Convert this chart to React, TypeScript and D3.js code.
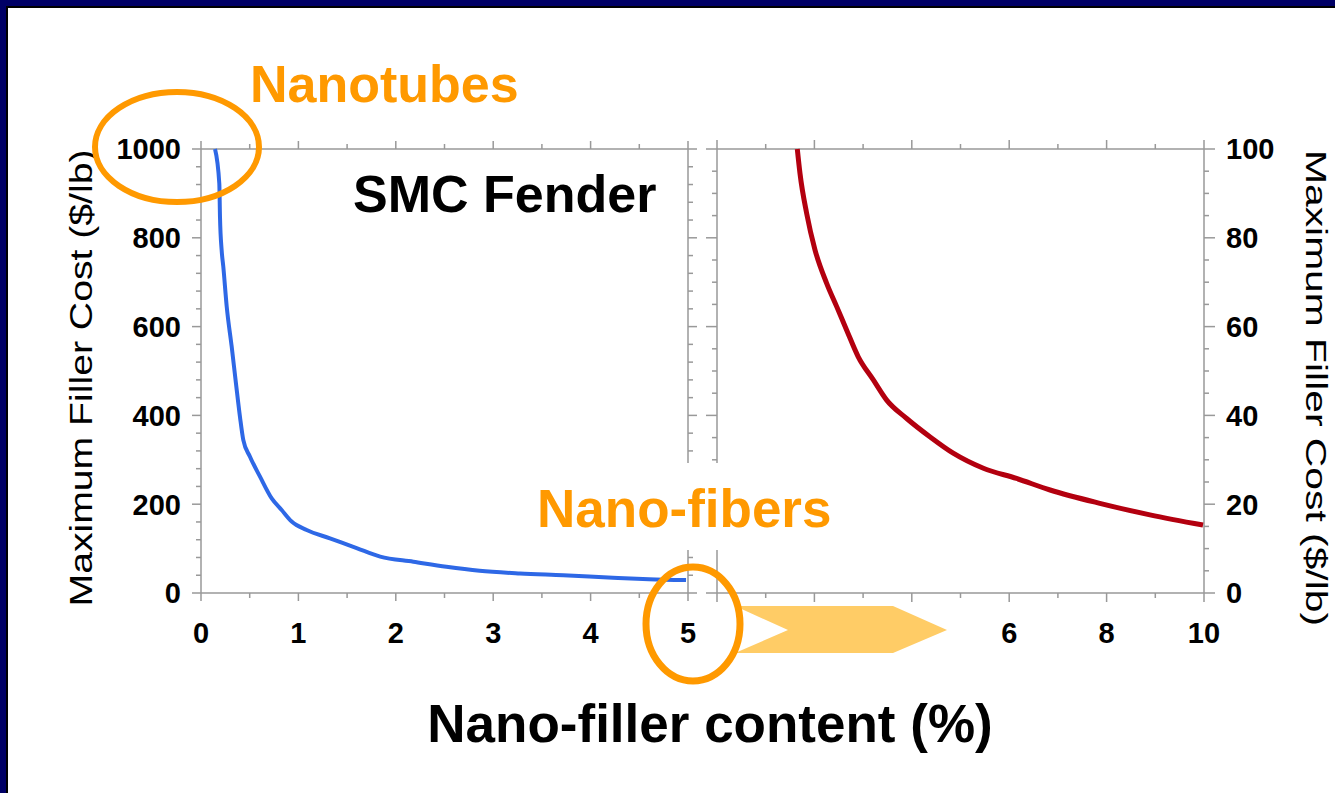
import React, { useEffect } from 'react';
import * as d3 from 'd3';

// Nano-filler content (%) vs maximum filler cost ($/lb)
const nanotubeContent = [0.144, 0.188, 0.195, 0.212, 0.229, 0.264, 0.315, 0.359, 0.4, 0.434, 0.503, 0.606, 0.726, 0.828, 0.931, 1.085, 1.324, 1.598, 1.84, 2.18, 2.52, 2.86, 3.275, 3.72, 4.23, 4.6, 4.98];
const nanotubeCost = [1000, 922, 847, 772, 735, 645, 555, 472, 397, 345, 307, 262, 213, 187, 161, 142, 123, 101, 82, 70.5, 59, 50, 44, 40, 34.5, 31, 29];

const fiberContent = [1.649, 1.704, 1.841, 2.012, 2.25, 2.458, 2.663, 2.9, 3.21, 3.48, 3.895, 4.37, 4.85, 5.47, 6.15, 6.84, 7.86, 8.89, 9.98];
const fiberCost = [100, 94.5, 85.5, 77.3, 69.8, 64.5, 59.2, 53.2, 48.0, 43.5, 39.3, 35.2, 31.5, 28.1, 25.8, 23.2, 20.2, 17.6, 15.3];

const leftXTicks = [0, 1, 2, 3, 4, 5];
const leftYTicks = [0, 200, 400, 600, 800, 1000];
const rightXTickLabels = [6, 8, 10];
const rightYTicks = [0, 20, 40, 60, 80, 100];

const yLabel = 'Maximum Filler Cost ($/lb)';
const xLabel = 'Nano-filler content (%)';
const title = 'SMC Fender';
const noteTubes = 'Nanotubes';
const noteFibers = 'Nano-fibers';

const FONT = '"Liberation Sans", Arial, Helvetica, sans-serif';
const ORANGE = '#FF9900';
const AXIS = '#999999';

export default function App() {
  useEffect(() => {
    document.body.style.margin = '0';
    document.body.style.overflow = 'hidden';
  }, []);

  const xL = d3.scaleLinear().domain([0, 5]).range([201, 688]);
  const yL = d3.scaleLinear().domain([0, 1000]).range([593, 149]);
  const xR = d3.scaleLinear().domain([0, 10]).range([717, 1204]);
  const yR = d3.scaleLinear().domain([0, 100]).range([593, 149]);

  const leftLine = d3
    .line<number>()
    .x((_, i) => xL(nanotubeContent[i]))
    .y((d) => yL(d))
    .curve(d3.curveMonotoneX);
  const rightLine = d3
    .line<number>()
    .x((_, i) => xR(fiberContent[i]))
    .y((d) => yR(d))
    .curve(d3.curveMonotoneX);

  const lxMinor = d3.range(0, 5.001, 0.5);
  const lyMinor = d3.range(0, 1000.1, 40);
  const rxMinor = d3.range(0, 10.001, 1);
  const ryMinor = d3.range(0, 100.1, 5);

  const tickTxt = { fontFamily: FONT, fontWeight: 700, fontSize: 29, fill: '#000' } as const;

  const arrow = [
    [735, 606],
    [893, 606],
    [947, 630],
    [893, 653],
    [735, 653],
    [788, 630],
  ]
    .map((p) => p.join(','))
    .join(' ');

  return (
    <svg
      width={1335}
      height={793}
      style={{ position: 'absolute', left: 0, top: 0, display: 'block' }}
    >
      {/* slide background */}
      <rect x={0} y={0} width={1335} height={793} fill="#000066" />
      <rect x={6} y={6} width={1329} height={787} fill="#000000" />
      <rect x={8} y={8} width={1327} height={785} fill="#ffffff" />

      {/* LEFT PANEL frame */}
      <g stroke={AXIS} strokeWidth={1.5} fill="none">
        <line x1={xL(0)} x2={xL(5)} y1={yL(0)} y2={yL(0)} />
        <line x1={xL(0)} x2={xL(5)} y1={yL(1000)} y2={yL(1000)} />
        <line x1={xL(0)} x2={xL(0)} y1={yL(0)} y2={yL(1000)} />
        <line x1={xL(5)} x2={xL(5)} y1={yL(0)} y2={yL(1000)} />
        {lxMinor.map((t) => {
          const major = Math.abs(t - Math.round(t)) < 1e-6;
          const len = major ? 8 : 5;
          return (
            <g key={'lx' + t}>
              <line x1={xL(t)} x2={xL(t)} y1={yL(0)} y2={yL(0) + len} />
              <line x1={xL(t)} x2={xL(t)} y1={yL(1000)} y2={yL(1000) - len} />
            </g>
          );
        })}
        {lyMinor.map((t) => {
          const major = t % 200 === 0;
          const len = major ? 9 : 5;
          return (
            <g key={'ly' + t}>
              <line x1={xL(0)} x2={xL(0) - len} y1={yL(t)} y2={yL(t)} />
              <line x1={xL(5)} x2={xL(5) + len} y1={yL(t)} y2={yL(t)} />
            </g>
          );
        })}
      </g>

      {/* RIGHT PANEL frame */}
      <g stroke={AXIS} strokeWidth={1.5} fill="none">
        <line x1={xR(0)} x2={xR(10)} y1={yR(0)} y2={yR(0)} />
        <line x1={xR(0)} x2={xR(10)} y1={yR(100)} y2={yR(100)} />
        <line x1={xR(0)} x2={xR(0)} y1={yR(0)} y2={yR(100)} />
        <line x1={xR(10)} x2={xR(10)} y1={yR(0)} y2={yR(100)} />
        {rxMinor.map((t) => {
          const len = t % 2 === 0 ? 9 : 5;
          return (
            <g key={'rx' + t}>
              <line x1={xR(t)} x2={xR(t)} y1={yR(0)} y2={yR(0) + len} />
              <line x1={xR(t)} x2={xR(t)} y1={yR(100)} y2={yR(100) - len} />
            </g>
          );
        })}
        {ryMinor.map((t) => {
          const len = t % 20 === 0 ? 11 : 5;
          return (
            <g key={'ry' + t}>
              <line x1={xR(0)} x2={xR(0) - len} y1={yR(t)} y2={yR(t)} />
              <line x1={xR(10)} x2={xR(10) + len} y1={yR(t)} y2={yR(t)} />
            </g>
          );
        })}
      </g>

      {/* curves */}
      <path
        d={leftLine(nanotubeCost) || ''}
        fill="none"
        stroke="#2E68E6"
        strokeWidth={4}
        strokeLinejoin="round"
      />
      <path
        d={rightLine(fiberCost) || ''}
        fill="none"
        stroke="#B3000F"
        strokeWidth={5}
        strokeLinejoin="round"
      />

      {/* tick labels */}
      {leftYTicks.map((t) => (
        <text key={'lyl' + t} x={181} y={yL(t)} dy="0.36em" textAnchor="end" {...tickTxt}>
          {t}
        </text>
      ))}
      {leftXTicks.map((t) => (
        <text key={'lxl' + t} x={xL(t)} y={643} textAnchor="middle" {...tickTxt}>
          {t}
        </text>
      ))}
      {rightXTickLabels.map((t) => (
        <text key={'rxl' + t} x={xR(t)} y={643} textAnchor="middle" {...tickTxt}>
          {t}
        </text>
      ))}
      {rightYTicks.map((t) => (
        <text key={'ryl' + t} x={1226} y={yR(t)} dy="0.36em" textAnchor="start" {...tickTxt}>
          {t}
        </text>
      ))}

      {/* axis titles */}
      <text
        transform="translate(92,378) rotate(-90)"
        textAnchor="middle"
        fontFamily={FONT}
        fontSize={32}
        textLength={457}
        lengthAdjust="spacingAndGlyphs"
        fill="#000"
      >
        {yLabel}
      </text>
      <text
        transform="translate(1306,388) rotate(90)"
        textAnchor="middle"
        fontFamily={FONT}
        fontSize={30}
        textLength={476}
        lengthAdjust="spacingAndGlyphs"
        fill="#000"
      >
        {yLabel}
      </text>
      <text
        x={710}
        y={742}
        textAnchor="middle"
        fontFamily={FONT}
        fontWeight={700}
        fontSize={53}
        fill="#000"
      >
        {xLabel}
      </text>

      {/* chart title */}
      <text x={353} y={212} fontFamily={FONT} fontWeight={700} fontSize={52} fill="#000">
        {title}
      </text>

      {/* annotations */}
      <rect x={530} y={463} width={310} height={87} fill="#ffffff" />
      <text x={537} y={527} fontFamily={FONT} fontWeight={700} fontSize={53} fill={ORANGE}>
        {noteFibers}
      </text>
      <text x={250} y={102} fontFamily={FONT} fontWeight={700} fontSize={52} fill={ORANGE}>
        {noteTubes}
      </text>
      <polygon points={arrow} fill="#FFCC66" />
      <ellipse cx={177} cy={147} rx={82} ry={55} fill="none" stroke={ORANGE} strokeWidth={6} />
      <ellipse cx={693} cy={624} rx={47} ry={57} fill="none" stroke={ORANGE} strokeWidth={7} />
    </svg>
  );
}
